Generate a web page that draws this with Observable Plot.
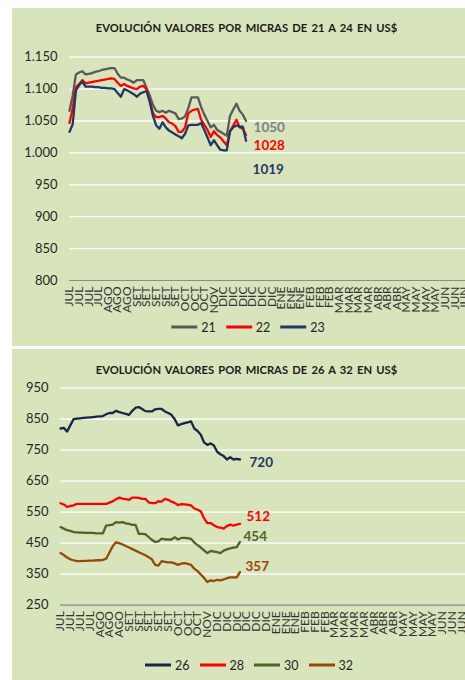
<!DOCTYPE html>
<html><head><meta charset="utf-8">
<script src="https://cdn.jsdelivr.net/npm/d3@7"></script>
<script src="https://cdn.jsdelivr.net/npm/@observablehq/plot@0.6"></script>
<style>
body{margin:0;background:#fff;font-family:Lato,"Open Sans",sans-serif;}
#root{position:relative;width:465px;height:680px;overflow:hidden;background:#fff;}
.panel{position:absolute;left:12px;width:453px;background:#d8e4bc;}
.title{position:absolute;transform:translateX(-50%);white-space:nowrap;font-weight:bold;font-size:11.2px;line-height:13px;word-spacing:1.5px;color:#1a1a1a;}
.chart{position:absolute;left:0;}
.legend{position:absolute;transform:translate(-50%,-50%);display:flex;align-items:center;gap:10px;font-size:12.5px;color:#262626;white-space:nowrap;}
.item{display:flex;align-items:center;gap:4px;}
.sw{display:inline-block;width:26px;height:3px;}
</style>
</head><body>
<div id="root">
  <div class="panel" style="top:8px;height:338px"></div>
  <div class="panel" style="top:349px;height:331px"></div>
  <div class="title" style="left:246.5px;top:20.5px">EVOLUCIÓN VALORES POR MICRAS DE 21 A 24 EN US$</div>
  <div class="title" style="left:246.5px;top:362.5px">EVOLUCIÓN VALORES POR MICRAS DE 26 A 32 EN US$</div>
  <div class="chart" id="c1" style="top:40px"></div>
  <div class="chart" id="c2" style="top:375px"></div>
  <div class="legend" id="l1" style="left:248px;top:327px"></div>
  <div class="legend" id="l2" style="left:249px;top:665px"></div>
</div>
<script>
// Category axis labels
const xLabels = ["JUL","JUL","JUL","JUL","AGO","AGO","AGO","SET","SET","SET","SET","SET","OCT","OCT","OCT","NOV","DIC","DIC","DIC","DIC","DIC","DIC","ENE","ENE","ENE","FEB","FEB","FEB","MAR","MAR","MAR","MAR","ABR","ABR","ABR","MAY","MAY","MAY","MAY","JUN","JUN","JUN"];
const pointsPerLabel = 3;

// Top chart series (micras 21, 22, 23)
const seriesTop = ["21","22","23"];
const v21 = [1066,1090,1123,1126,1128,1123,1124,1125,1127,1128,1130,1131,1132,1133,1133,1124,1118,1118,1115,1113,1110,1114,1114,1114,1102,1090,1075,1066,1064,1066,1063,1066,1064,1062,1053,1054,1057,1070,1087,1087,1087,1072,1060,1050,1040,1044,1036,1033,1030,1027,1058,1068,1077,1066,1060,1050];
const v22 = [1047,1070,1103,1108,1114,1109,1110,1111,1112,1113,1114,1115,1116,1117,1116,1110,1105,1108,1105,1103,1101,1100,1104,1105,1100,1082,1062,1056,1056,1058,1054,1048,1046,1042,1033,1033,1040,1062,1066,1068,1069,1052,1044,1036,1025,1034,1028,1024,1018,1012,1034,1043,1052,1040,1038,1028];
const v23 = [1033,1045,1098,1106,1112,1104,1104,1104,1103,1103,1102,1102,1101,1101,1100,1094,1088,1100,1098,1095,1092,1088,1093,1095,1097,1080,1058,1043,1038,1048,1040,1035,1032,1029,1026,1023,1030,1043,1044,1044,1044,1047,1036,1024,1012,1020,1012,1005,1004,1004,1034,1040,1043,1041,1041,1019];
const topTicks = [800,850,900,950,1000,1050,1100,1150];

// Bottom chart series (micras 26, 28, 30, 32)
const seriesBot = ["26","28","30","32"];
const v26 = [820,822,810,830,850,852,853,854,855,856,857,858,859,860,866,870,870,877,873,870,867,864,877,887,889,883,876,875,875,882,883,883,875,870,864,850,830,834,837,840,843,820,812,800,775,767,772,765,745,737,731,720,727,720,722,720];
const v28 = [579,575,567,570,572,577,577,577,577,577,577,577,577,577,577,581,585,592,597,594,592,590,597,597,596,593,593,582,579,579,585,584,593,590,584,580,573,576,575,574,572,562,558,553,530,515,515,508,502,500,497,505,510,507,510,512];
const v30 = [502,497,492,490,486,485,484,484,483,483,483,482,482,482,507,508,510,518,516,518,514,512,509,509,480,480,479,470,461,454,456,465,462,462,462,469,462,467,467,466,464,452,444,436,427,418,425,423,421,418,426,430,433,436,437,454];
const v32 = [418,412,404,398,395,392,392,393,393,394,394,395,395,396,400,420,440,453,450,446,441,436,431,426,421,416,411,405,398,380,378,392,390,388,388,385,380,384,386,383,380,368,360,349,338,325,330,328,332,330,333,337,340,340,340,357];
const botTicks = [250,350,450,550,650,750,850,950];

const colTop = {"21":"#595959","22":"#ff0000","23":"#1f3864"};
const colBot = {"26":"#17264a","28":"#ff0000","30":"#4f6228","32":"#974806"};
const labTop = {"21":"#808080","22":"#ff0000","23":"#1f3864"};
const labBot = {"26":"#1f3864","28":"#ff0000","30":"#4f6228","32":"#974806"};

const loc = d3.formatLocale({decimal:",", thousands:".", grouping:[3], currency:["$",""]});
const fmt = loc.format(",");

function rows(names, arrays){
  const out = [];
  names.forEach((n,k)=>arrays[k].forEach((v,i)=>out.push({x:i/pointsPerLabel, y:v, s:n})));
  return out;
}
const topData = rows(seriesTop,[v21,v22,v23]);
const botData = rows(seriesBot,[v26,v28,v30,v32]);

function lastPoints(names, arrays){
  return names.map((n,k)=>({s:n, x:(arrays[k].length-1)/pointsPerLabel, y:arrays[k][arrays[k].length-1]}));
}

function chart(opts){
  const {data, colors, labColors, yDomain, ticks, marginLeft, xMax, height, marginTop, marginBottom, ends, offsets} = opts;
  return Plot.plot({
    width:465, height, marginLeft, marginRight:0, marginTop, marginBottom,
    style:{background:"transparent", fontFamily:"Lato, 'Open Sans', sans-serif", color:"#404040", overflow:"visible"},
    x:{domain:[0,xMax], axis:null},
    y:{domain:yDomain, axis:null},
    marks:[
      Plot.ruleY(ticks.slice(1), {stroke:"#ffffff", strokeWidth:1.3}),
      Plot.ruleY([ticks[0]], {stroke:"#8c8c8c", strokeWidth:1.2}),
      Plot.axisY({ticks, label:null, tickSize:0, tickPadding:12, tickFormat:fmt, fontSize:13, fill:"#262626"}),
      Plot.text(d3.range(xLabels.length), {x:d=>d, frameAnchor:"bottom", text:i=>xLabels[i], rotate:-90, textAnchor:"end", lineAnchor:"middle", dy:6, fontSize:12, fill:"#333"}),
      Plot.line(data, {x:"x", y:"y", z:"s", stroke:d=>colors[d.s], strokeWidth:2.3, strokeLinejoin:"round"}),
      ...ends.map((e,k)=>Plot.text([e], {x:"x", y:"y", text:d=>String(d.y), fill:labColors[e.s], fontWeight:"bold", fontSize:13.5, textAnchor:"start", dx:offsets[k][0], dy:offsets[k][1]}))
    ]
  });
}

document.getElementById("c1").appendChild(chart({
  data:topData, colors:colTop, labColors:labTop,
  yDomain:[800,1150], ticks:topTicks, marginLeft:69, xMax:396/9.63,
  height:275, marginTop:16.7, marginBottom:35,
  ends:lastPoints(seriesTop,[v21,v22,v23]),
  offsets:[[7.5,6.5],[7.5,11],[6.5,29]]
}));
document.getElementById("c2").appendChild(chart({
  data:botData, colors:colBot, labColors:labBot,
  yDomain:[250,950], ticks:botTicks, marginLeft:60, xMax:405/9.79,
  height:265, marginTop:12.7, marginBottom:35.3,
  ends:lastPoints(seriesBot,[v26,v28,v30,v32]),
  offsets:[[9.5,2.7],[6.5,-7],[3.5,-5.5],[5.5,-5.4]]
}));

function legend(id, names, colors){
  const el = document.getElementById(id);
  names.forEach(n=>{
    const it = document.createElement("div"); it.className="item";
    const sw = document.createElement("span"); sw.className="sw"; sw.style.background=colors[n];
    const t = document.createElement("span"); t.textContent=n;
    it.appendChild(sw); it.appendChild(t); el.appendChild(it);
  });
}
legend("l1", seriesTop, colTop);
legend("l2", seriesBot, colBot);
</script>
</body></html>
